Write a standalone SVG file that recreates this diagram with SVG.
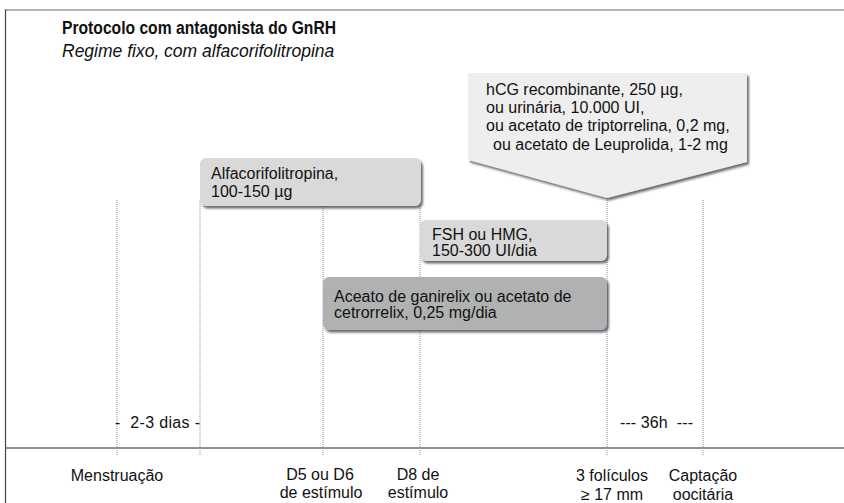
<svg xmlns="http://www.w3.org/2000/svg" width="844" height="503" viewBox="0 0 844 503">
<style>
.t{font-family:"Liberation Sans",Arial,sans-serif;font-size:16px;fill:#111}
.lbl{font-family:"Liberation Sans",Arial,sans-serif;font-size:16px;fill:#111;text-anchor:middle}
.grid{stroke:#a8a8a8;stroke-width:1.3;stroke-dasharray:1 1;fill:none}
.box{fill:#d9d9d9}
.dark{fill:#b0b1b1}
.call{fill:#eeeeee}
</style>
<defs>
<filter id="sh" x="-10%" y="-10%" width="125%" height="135%">
<feDropShadow dx="2" dy="2.5" stdDeviation="1.3" flood-color="#3a3a4a" flood-opacity="0.75"/>
</filter>
</defs>
<rect x="0" y="0" width="844" height="503" fill="#ffffff"/>
<g id="frame">
<line x1="5" y1="10" x2="844" y2="10" stroke="#9a9a9a" stroke-width="1.6"/>
<line x1="5.5" y1="9.5" x2="5.5" y2="503" stroke="#444" stroke-width="1.2"/>
<line x1="5" y1="448" x2="844" y2="448" stroke="#6a6a72" stroke-width="1.6"/>
</g>
<g id="title">
<text x="62" y="34" textLength="274" lengthAdjust="spacingAndGlyphs" style="font-family:'Liberation Sans',Arial,sans-serif;font-size:18px;font-weight:bold;fill:#111">Protocolo com antagonista do GnRH</text>
<text x="62" y="57" style="font-family:'Liberation Sans',Arial,sans-serif;font-size:17.5px;font-style:italic;fill:#111">Regime fixo, com alfacorifolitropina</text>
</g>
<g id="connectors">
<line class="grid" x1="117" y1="200" x2="117" y2="456"/>
<line class="grid" x1="200" y1="200" x2="200" y2="456"/>
<line class="grid" x1="323" y1="200" x2="323" y2="456"/>
<line class="grid" x1="420" y1="200" x2="420" y2="456"/>
<line class="grid" x1="607" y1="198" x2="607" y2="456"/>
<line class="grid" x1="703" y1="200" x2="703" y2="456"/>
</g>
<g id="callout">
<path class="call" filter="url(#sh)" d="M470,73 H745 Q747,73 747,75 V162 L607,198 L468,160 V75 Q468,73 470,73 Z"/>
<text class="t" x="486" y="95">hCG recombinante, 250 µg,</text>
<text class="t" x="486" y="113">ou urinária, 10.000 UI,</text>
<text class="t" x="486" y="131">ou acetato de triptorrelina, 0,2 mg,</text>
<text class="t" x="493" y="150">ou acetato de Leuprolida, 1-2 mg</text>
</g>
<g id="alfa">
<rect class="box" filter="url(#sh)" x="200" y="158" width="221" height="48" rx="6"/>
<text class="t" x="211" y="179">Alfacorifolitropina,</text>
<text class="t" x="211" y="197">100-150 µg</text>
</g>
<g id="fsh">
<rect class="box" filter="url(#sh)" x="420" y="220" width="187" height="41" rx="6"/>
<text class="t" x="432" y="240">FSH ou HMG,</text>
<text class="t" x="432" y="256">150-300 UI/dia</text>
</g>
<g id="antagonist">
<rect class="dark" filter="url(#sh)" x="323" y="277" width="284" height="53" rx="6"/>
<text class="t" x="334" y="302">Aceato de ganirelix ou acetato de</text>
<text class="t" x="334" y="318">cetrorrelix, 0,25 mg/dia</text>
</g>
<g id="intervals">
<text class="t" x="115" y="428" textLength="85" xml:space="preserve">-  2-3 dias -</text>
<text class="t" x="620" y="428" textLength="73" xml:space="preserve">--- 36h  ---</text>
</g>
<g id="labels">
<text class="lbl" x="117" y="481">Menstruação</text>
<text class="lbl" x="320" y="480">D5 ou D6</text>
<text class="lbl" x="321" y="498">de estímulo</text>
<text class="lbl" x="418" y="480">D8 de</text>
<text class="lbl" x="418" y="498">estímulo</text>
<text class="lbl" x="612" y="481">3 folículos</text>
<text class="lbl" x="612" y="500">≥ 17 mm</text>
<text class="lbl" x="703" y="481">Captação</text>
<text class="lbl" x="703" y="500">oocitária</text>
</g>
</svg>
